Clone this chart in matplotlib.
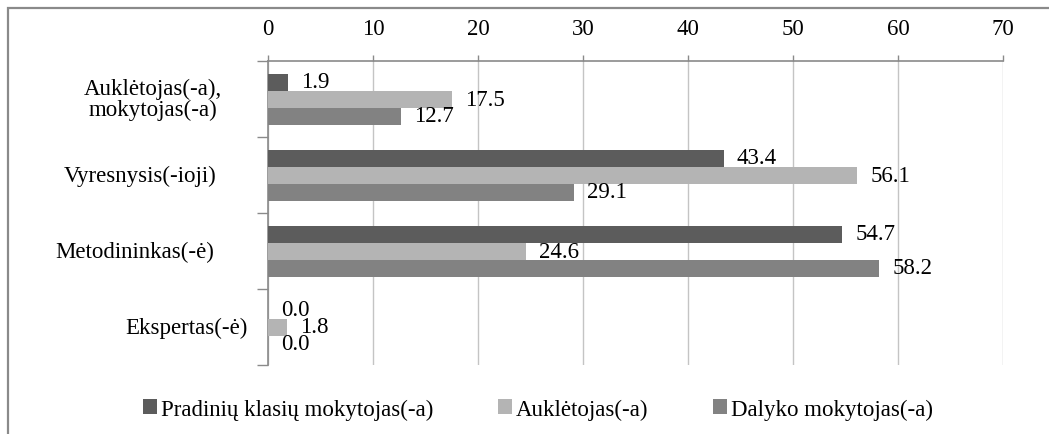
import matplotlib
matplotlib.use('Agg')
import matplotlib.pyplot as plt
import numpy as np
from matplotlib.patches import Rectangle, Patch

W, H = 1049, 435
FONT = 'Liberation Serif'
FS = 16.5

categories = ['Auklėtojas(-a),\nmokytojas(-a)', 'Vyresnysis(-ioji)',
              'Metodininkas(-ė)', 'Ekspertas(-ė)']
series_names = ['Pradinių klasių mokytojas(-a)', 'Auklėtojas(-a)',
                'Dalyko mokytojas(-a)']
pradiniu = [1.9, 43.4, 54.7, 0.0]
aukletojas = [17.5, 56.1, 24.6, 1.8]
dalyko = [12.7, 29.1, 58.2, 0.0]
x_ticks = [0, 10, 20, 30, 40, 50, 60, 70]

colors = ['#5c5c5c', '#b4b4b4', '#828282']
# right edge of each category label, in pixels from the left of the figure
label_right_px = [222, 216, 214, 248]

plt.rcParams['font.family'] = [FONT, 'DejaVu Serif']

fig = plt.figure(figsize=(W / 100, H / 100), dpi=100)
fig.patch.set_facecolor('white')

# outer frame (only the top and left edges fall inside the canvas)
fig.patches.append(Rectangle((8 / W, -0.2), 1.2, 1 - 9 / H + 0.2,
                             transform=fig.transFigure, fill=False,
                             edgecolor='#8a8a8a', lw=1.6))

ax = fig.add_axes([268 / W, 1 - 366 / H, (1003 - 268) / W, (366 - 62) / H])

bar_h = 17 / 76
y = np.arange(len(categories))
for i, vals in enumerate([pradiniu, aukletojas, dalyko]):
    yy = y + (i - 1) * bar_h
    ax.barh(yy, vals, height=bar_h, color=colors[i], zorder=3)
    for v, yc in zip(vals, yy):
        ax.annotate(f'{v:.1f}', (v, yc), xytext=(9.5, 0),
                    textcoords='offset points', va='center', ha='left',
                    fontsize=FS, color='black', zorder=4)

ax.set_xlim(0, 70)
ax.set_ylim(len(categories) - 0.5, -0.5)
ax.xaxis.tick_top()
ax.set_xticks(x_ticks)
ax.set_xticklabels([str(t) for t in x_ticks], fontsize=FS)
ax.tick_params(axis='x', direction='out', length=4, width=1,
               color='#8a8a8a', pad=12)
ax.grid(axis='x', color='#c4c4c4', lw=1, zorder=0)

ax.set_yticks(np.arange(len(categories) + 1) - 0.5)
ax.set_yticklabels([])
ax.tick_params(axis='y', direction='out', length=8, width=1, color='#8a8a8a')

for s in ['right', 'bottom']:
    ax.spines[s].set_visible(False)
for s in ['top', 'left']:
    ax.spines[s].set_color('#8a8a8a')
    ax.spines[s].set_linewidth(1.2)

for cat, yc, rx in zip(categories, y, label_right_px):
    xa = (rx - 268) / (1003 - 268)
    ax.text(xa, yc, cat, transform=ax.get_yaxis_transform(), ha='right',
            va='center', multialignment='center', fontsize=FS,
            linespacing=1.0)

handles = [Patch(facecolor=c, edgecolor='none') for c in colors]
fig.legend(handles, series_names, loc='center', ncol=3, frameon=False,
           bbox_to_anchor=(538 / W, 1 - 410 / H), fontsize=FS,
           handlelength=0.6, handleheight=0.6, handletextpad=0.2,
           columnspacing=2.8)

fig.savefig('out.png', dpi=100, facecolor='white')
